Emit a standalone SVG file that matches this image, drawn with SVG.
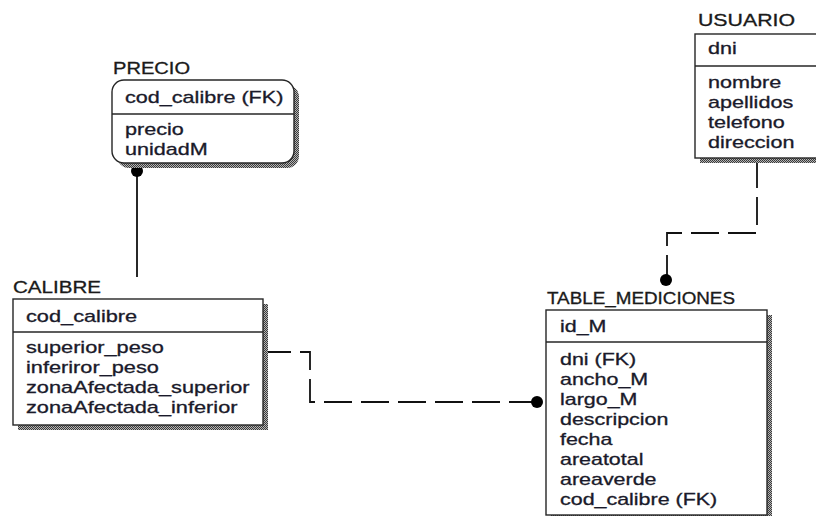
<svg xmlns="http://www.w3.org/2000/svg" width="816" height="516" viewBox="0 0 816 516">
<defs>
<pattern id="dither" width="2" height="2" patternUnits="userSpaceOnUse">
<rect width="2" height="2" fill="#b4b4b4"/>
<rect width="1" height="1" fill="#3a3a3a"/>
<rect x="1" y="1" width="1" height="1" fill="#3a3a3a"/>
</pattern>
<style>
.box{fill:#fff;stroke:#262626;stroke-width:1.4}
.shadow{fill:url(#dither);stroke:none}
.div{stroke:#262626;stroke-width:1.4}
.t{font-family:"Liberation Sans",Arial,sans-serif;font-size:16px;fill:#1a1a2a;stroke:#1a1a2a;stroke-width:0.3}
.title{font-family:"Liberation Sans",Arial,sans-serif;font-size:16px;fill:#1a1a1a;stroke:#1a1a1a;stroke-width:0.3}
.conn{fill:none;stroke:#111;stroke-width:1.8}
.dash{stroke-dasharray:28 9}
.dot{fill:#000}
</style>
</defs>
<rect width="816" height="516" fill="#fff"/>

<g id="connectors">
<line class="conn" x1="137" y1="171" x2="137" y2="277"/>
<circle class="dot" cx="137" cy="171" r="6"/>
<polyline class="conn dash" points="757,160 757,233 667,233 667,280"/>
<circle class="dot" cx="666" cy="280" r="6"/>
<polyline class="conn dash" points="263,352 310,352 310,402 537,402"/>
<circle class="dot" cx="537" cy="402" r="6"/>
</g>

<g id="PRECIO">
<text class="title" x="113" y="74" textLength="77" lengthAdjust="spacingAndGlyphs">PRECIO</text>
<rect class="shadow" x="117" y="85" width="182" height="83" rx="12"/>
<rect class="box" x="112" y="80" width="182" height="83" rx="12"/>
<line class="div" x1="112" y1="114" x2="294" y2="114"/>
<g transform="translate(125,0) scale(1.35,1)">
<text class="t" x="0" y="103">cod_calibre (FK)</text>
<text class="t" x="0" y="135">precio</text>
<text class="t" x="0" y="155">unidadM</text>
</g>
</g>

<g id="USUARIO">
<text class="title" x="698" y="26" textLength="97" lengthAdjust="spacingAndGlyphs">USUARIO</text>
<rect class="shadow" x="700" y="39" width="130" height="124"/>
<rect class="box" x="695" y="34" width="130" height="124"/>
<line class="div" x1="695" y1="66" x2="825" y2="66"/>
<g transform="translate(708,0) scale(1.35,1)">
<text class="t" x="0" y="54">dni</text>
<text class="t" x="0" y="88">nombre</text>
<text class="t" x="0" y="108">apellidos</text>
<text class="t" x="0" y="128">telefono</text>
<text class="t" x="0" y="148">direccion</text>
</g>
</g>

<g id="CALIBRE">
<text class="title" x="13" y="293" textLength="88" lengthAdjust="spacingAndGlyphs">CALIBRE</text>
<rect class="shadow" x="18" y="304" width="250" height="126"/>
<rect class="box" x="13" y="299" width="250" height="126"/>
<line class="div" x1="13" y1="332" x2="263" y2="332"/>
<g transform="translate(26,0) scale(1.36,1)">
<text class="t" x="0" y="322">cod_calibre</text>
<text class="t" x="0" y="353">superior_peso</text>
<text class="t" x="0" y="373">inferiror_peso</text>
<text class="t" x="0" y="393">zonaAfectada_superior</text>
<text class="t" x="0" y="413">zonaAfectada_inferior</text>
</g>
</g>

<g id="TABLE_MEDICIONES">
<text class="title" x="547" y="304" textLength="188" lengthAdjust="spacingAndGlyphs">TABLE_MEDICIONES</text>
<rect class="shadow" x="551" y="315" width="221" height="205"/>
<rect class="box" x="546" y="310" width="221" height="205"/>
<line class="div" x1="546" y1="342" x2="767" y2="342"/>
<g transform="translate(560,0) scale(1.34,1)">
<text class="t" x="0" y="332">id_M</text>
<text class="t" x="0" y="365">dni (FK)</text>
<text class="t" x="0" y="385">ancho_M</text>
<text class="t" x="0" y="405">largo_M</text>
<text class="t" x="0" y="425">descripcion</text>
<text class="t" x="0" y="445">fecha</text>
<text class="t" x="0" y="465">areatotal</text>
<text class="t" x="0" y="485">areaverde</text>
<text class="t" x="0" y="505">cod_calibre (FK)</text>
</g>
</g>
</svg>
